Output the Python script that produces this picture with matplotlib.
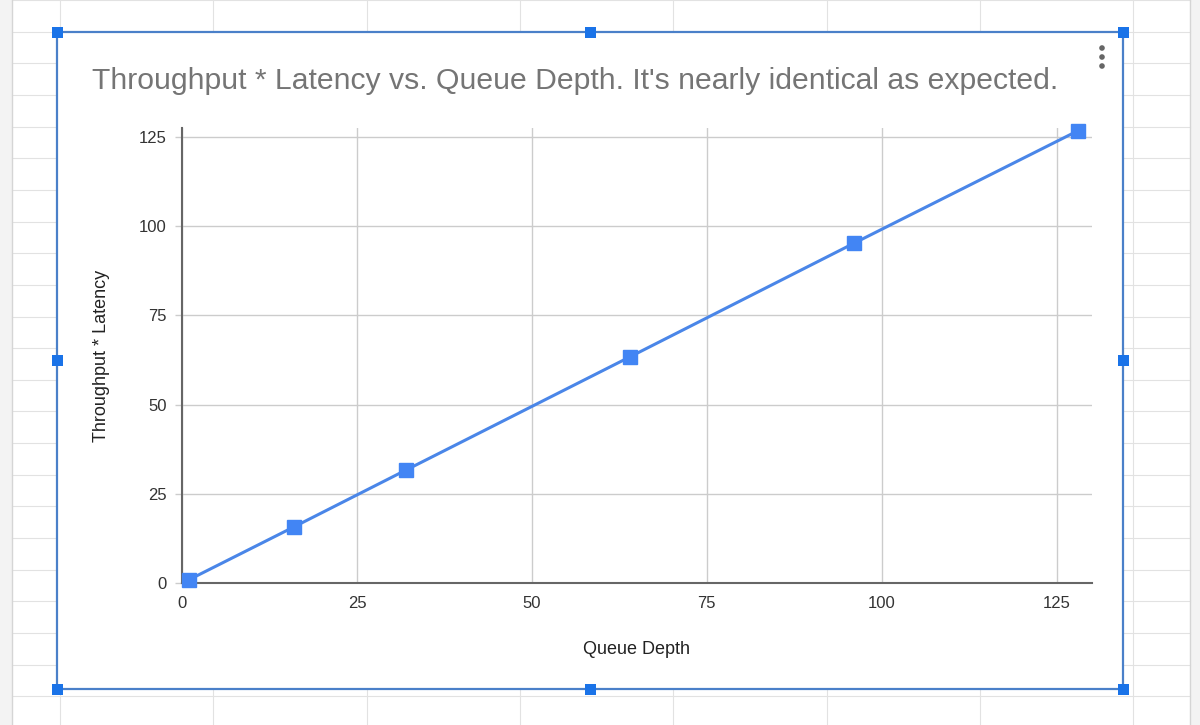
import matplotlib
matplotlib.use('Agg')
import matplotlib.pyplot as plt
from matplotlib.patches import Rectangle, Circle

# ---- data ----
queue_depth = [1, 16, 32, 64, 96, 128]
throughput_latency = [1.0, 15.8, 31.7, 63.4, 95.2, 126.7]
x_ticks = [0, 25, 50, 75, 100, 125]
y_ticks = [0, 25, 50, 75, 100, 125]
title_text = "Throughput * Latency vs. Queue Depth. It's nearly identical as expected."
x_label = "Queue Depth"
y_label = "Throughput * Latency"

plt.rcParams['font.family'] = ['Liberation Sans', 'DejaVu Sans']

W, H = 1200, 725
fig = plt.figure(figsize=(12, 7.25), dpi=100)

# ---- spreadsheet background ----
bg = fig.add_axes([0, 0, 1, 1], zorder=0)
bg.set_xlim(0, W)
bg.set_ylim(H, 0)
bg.axis('off')
bg.add_patch(Rectangle((0, 0), W, H, color='#ffffff', lw=0))
bg.add_patch(Rectangle((0, 0), 12, H, color='#f3f3f3', lw=0))
bg.add_patch(Rectangle((1190, 0), 10, H, color='#f3f3f3', lw=0))
grid_c = '#e2e2e2'
for k in range(8):
    x = 60 + 153.3 * k
    bg.plot([x, x], [0, H], color=grid_c, lw=0.8)
for k in range(24):
    y = 31.65 * k
    bg.plot([12, 1190], [y, y], color=grid_c, lw=0.8)
bg.plot([12, 12], [0, H], color='#d5d5d5', lw=1.0)
bg.plot([1190, 1190], [0, H], color='#d5d5d5', lw=1.0)

# chart frame
fx0, fy0, fx1, fy1 = 57, 32, 1123, 689
bg.add_patch(Rectangle((fx0, fy0), fx1 - fx0, fy1 - fy0, fc='white',
                       ec='#4a80c9', lw=1.6, zorder=2))
hs = 11
for hx in (fx0, (fx0 + fx1) / 2, fx1):
    for hy in (fy0, (fy0 + fy1) / 2, fy1):
        if hx == (fx0 + fx1) / 2 and hy == (fy0 + fy1) / 2:
            continue
        bg.add_patch(Rectangle((hx - hs / 2, hy - hs / 2), hs, hs,
                               fc='#1a73e8', ec='none', zorder=3))
for dy in (48, 57, 66):
    bg.add_patch(Circle((1102, dy), 2.8, fc='#666666', ec='none', zorder=3))

# title
fig.text(92 / W, 1 - 89 / H, title_text, fontsize=21.7, color='#757575',
         ha='left', va='baseline', zorder=5)

# ---- chart axes ----
left, right, bottom, top = 182, 1091.7, 583.3, 128.0
ax = fig.add_axes([left / W, 1 - bottom / H, (right - left) / W, (bottom - top) / H],
                  zorder=5)
ax.patch.set_alpha(0)
ax.plot(queue_depth, throughput_latency, color='#4a86e8', lw=2.2,
        marker='s', markersize=9.5, markerfacecolor='#4285f4',
        markeredgecolor='#4285f4', clip_on=False, zorder=4)
ax.set_xlim(0, 130)
ax.set_ylim(0, 127.5)
ax.set_xticks(x_ticks)
ax.set_yticks(y_ticks)
ax.grid(True, color='#cccccc', lw=1.0)
ax.set_axisbelow(True)
for s in ('top', 'right'):
    ax.spines[s].set_visible(False)
for s in ('left', 'bottom'):
    ax.spines[s].set_color('#666666')
    ax.spines[s].set_linewidth(1.5)
ax.tick_params(axis='y', length=5, width=1.0, color='#cccccc', pad=6,
               labelsize=12, labelcolor='#333333')
ax.tick_params(axis='x', length=0, pad=9, labelsize=12, labelcolor='#333333')
ax.set_xlabel(x_label, fontsize=13, color='#222222', labelpad=22)
ax.set_ylabel(y_label, fontsize=13, color='#222222', labelpad=21)

fig.savefig('out.png', dpi=100)
